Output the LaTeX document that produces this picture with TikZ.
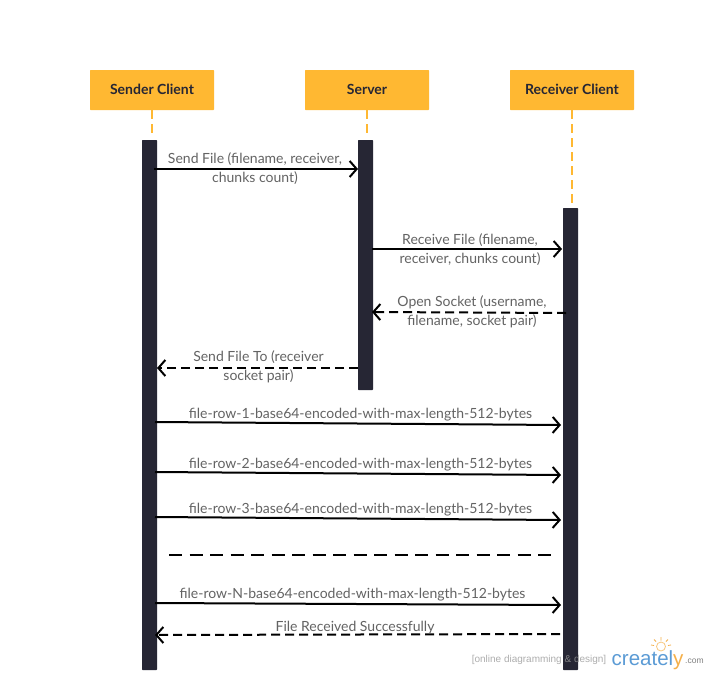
\documentclass[tikz,border=0pt]{standalone}
\usepackage{fontspec}
\setmainfont{Lato}
\newfontfamily\wmfont{Liberation Sans}
\usetikzlibrary{arrows.meta}
\definecolor{hdr}{HTML}{FFB832}
\definecolor{barc}{HTML}{262634}
\definecolor{txt}{HTML}{636363}
\definecolor{crblue}{HTML}{5B9BD5}
\definecolor{cror}{HTML}{F5B04A}
\tikzset{
 x=1pt,y=-1pt,
 hdrbox/.style={fill=hdr,minimum width=124pt,minimum height=40pt,inner sep=0,rounded corners=0.6pt,font=\fontsize{14}{16}\selectfont\bfseries,text=barc},
 lifebar/.style={fill=barc,minimum width=15pt,inner sep=0,rounded corners=0.6pt},
 lifeline/.style={draw=hdr,line width=1.8pt,dash pattern=on 9pt off 5pt},
 msg/.style={draw=black,line width=2pt,-{Straight Barb[length=7pt,width=16pt,line width=2pt]}},
 msgd/.style={msg,dash pattern=on 9pt off 5pt},
 lab/.style={text=txt,font=\fontsize{14}{19}\selectfont,align=center,inner sep=0},
}
\begin{document}
\begin{tikzpicture}
\useasboundingbox (0,0) rectangle (710,675);
\fill[white] (0,0) rectangle (710,675);
\node[hdrbox] (h1) at (152,90) {\raisebox{2pt}{Sender Client}};
\node[hdrbox] (h2) at (367,90) {\raisebox{2pt}{Server}};
\node[hdrbox] (h3) at (572,90) {\raisebox{2pt}{Receiver Client}};
\node[lifebar,minimum height=530pt] (b1) at (149.5,405) {};
\node[lifebar,minimum height=250pt] (b2) at (365.5,265) {};
\node[lifebar,minimum height=462pt] (b3) at (570.5,439) {};
\coordinate (l1) at (152,137); \coordinate (l2) at (367,137); \coordinate (l3) at (572,205);
\draw[lifeline] (h1.south -| l1) -- (l1);
\draw[lifeline] (h2.south -| l2) -- (l2);
\draw[lifeline] (h3.south -| l3) -- (l3);
\coordinate (a1s) at (154,169); \coordinate (a1e) at (358,169);
\coordinate (a2s) at (372,249); \coordinate (a2e) at (562,249);
\coordinate (a3s) at (566,313); \coordinate (a3e) at (372,312);
\coordinate (a4s) at (358,368); \coordinate (a4e) at (157,368);
\coordinate (r1s) at (155,422); \coordinate (r1e) at (561,425);
\coordinate (r2s) at (155,472); \coordinate (r2e) at (561,475);
\coordinate (r3s) at (155,517); \coordinate (r3e) at (561,520);
\coordinate (gs) at (169,554.5); \coordinate (ge) at (552,554.5);
\coordinate (rns) at (155,603); \coordinate (rne) at (561,605);
\coordinate (oks) at (560,634); \coordinate (oke) at (155,635);
\draw[msg] (a1s) -- (a1e);
\draw[msg] (a2s) -- (a2e);
\draw[msgd] (a3s) -- (a3e);
\draw[msgd] (a4s) -- (a4e);
\draw[msg] (r1s) -- (r1e);
\draw[msg] (r2s) -- (r2e);
\draw[msg] (r3s) -- (r3e);
\draw[draw=black,line width=2pt,dash pattern=on 13pt off 7.5pt] (gs) -- (ge);
\draw[msg] (rns) -- (rne);
\draw[msgd] (oks) -- (oke);
\node[lab] (t1) at (255,168.5) {Send File (filename, receiver,\\chunks count)};
\node[lab] (t2) at (470,250) {Receive File (filename,\\receiver, chunks count)};
\node[lab] (t3) at (472,312) {Open Socket (username,\\filename, socket pair)};
\node[lab] (t4) at (258.5,367) {Send File To (receiver\\socket pair)};
\node[lab] (t5) at (360.5,415) {file-row-1-base64-encoded-with-max-length-512-bytes};
\node[lab] (t6) at (360.5,465) {file-row-2-base64-encoded-with-max-length-512-bytes};
\node[lab] (t7) at (360.5,510) {file-row-3-base64-encoded-with-max-length-512-bytes};
\node[lab] (t8) at (352.5,595) {file-row-N-base64-encoded-with-max-length-512-bytes};
\node[lab] (t9) at (355,628) {File Received Successfully};
% watermark
\node[anchor=east,inner sep=0,text=gray!80,text opacity=.8,font=\wmfont\fontsize{10}{11}\selectfont] (w1) at (606.5,660) {[online diagramming \& design]};
\node[anchor=west,inner sep=0,font=\wmfont\fontsize{20.5}{24}\selectfont] (w2) at (611.5,660) {\textcolor{crblue}{createl}\textcolor{cror}{y}};
\node[anchor=west,inner sep=0,text=gray,font=\wmfont\fontsize{8.5}{10}\selectfont] (w3) at (685,661) {.com};
\draw[cror!70,line width=.8pt] (661,646.5) circle (4.5);
\draw[cror,line width=.8pt] (661,637)--(661,640.5) (654,639.5)--(656,641.5) (668,639.5)--(666,641.5) (651,645)--(654,645.5) (671,645)--(668,645.5);
\end{tikzpicture}
\end{document}
